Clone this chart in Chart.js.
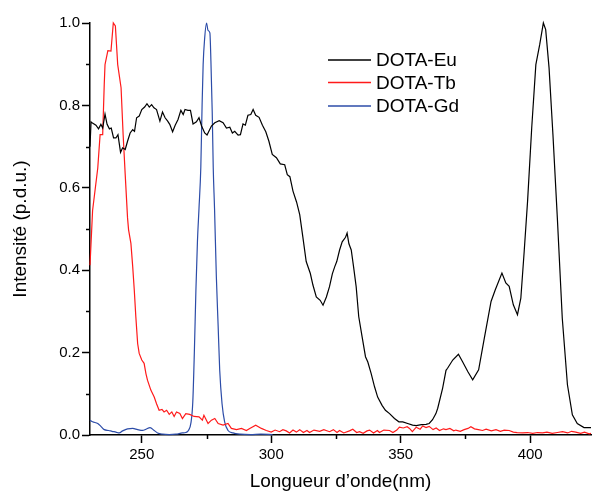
<!DOCTYPE html>
<html>
<head>
<meta charset="utf-8">
<script src="https://cdn.jsdelivr.net/npm/chart.js@4.4.1/dist/chart.umd.min.js"></script>
<style>
    body { margin: 0; background: #fff; }
    #wrap { width: 592px; height: 493px; }
</style>
</head>
<body>
<div id="wrap"><canvas id="myChart" width="592" height="493"></canvas></div>
<script>
// valeurs (longueur d'onde en nm, intensité normalisée)
var seriesLabels = ['DOTA-Eu', 'DOTA-Tb', 'DOTA-Gd'];
var seriesColors = ['#000000', '#ff1a1a', '#2c4ca8'];

var euX = [230.0, 230.4, 230.8, 232.3, 233.3, 234.2, 234.9, 235.8, 236.6, 237.5, 238.2, 239.1, 240.0, 240.8, 241.8, 242.6, 243.6, 244.5, 245.5, 246.5,
    247.2, 248.0, 249.0, 250.0, 251.1, 252.0, 252.9, 253.8, 254.7, 255.7, 257.0, 258.0, 259.0, 260.0, 260.8, 261.9, 262.9, 264.0, 265.1, 266.0,
    266.7, 267.8, 268.8, 269.8, 271.1, 272.1, 273.1, 274.3, 275.2, 276.9, 278.2, 279.9, 281.4, 282.7, 284.0, 285.0, 285.9, 287.2, 288.1, 289.1,
    290.0, 291.0, 292.1, 293.0, 294.0, 295.3, 296.6, 297.9, 299.1, 300.4, 302.0, 303.5, 305.2, 306.2, 307.2, 308.4, 309.8, 311.0, 312.2, 313.5,
    315.1, 316.1, 317.4, 318.9, 320.0, 321.3, 322.5, 323.6, 324.5, 325.3, 326.4, 327.4, 328.7, 329.3, 330.0, 330.9, 331.8, 332.8, 333.8, 335.1,
    336.4, 337.3, 338.6, 339.9, 341.1, 342.8, 344.1, 345.7, 347.6, 349.3, 350.8, 352.7, 354.6, 356.0, 358.0, 359.8, 361.0, 362.3, 363.6, 364.3,
    366.2, 367.5, 368.1, 370.1, 372.3, 373.9, 375.9, 377.8, 380.1, 382.3, 384.9, 386.5, 389.1, 390.6, 391.9, 393.5, 395.1, 396.4, 397.7, 399.0,
    400.6, 402.2, 403.7, 405.1, 406.0, 407.3, 408.8, 410.5, 412.4, 414.4, 416.3, 418.2, 420.8, 423.5];
var euY = [0.700, 0.760, 0.758, 0.752, 0.743, 0.754, 0.745, 0.779, 0.754, 0.743, 0.745, 0.721, 0.721, 0.729, 0.686, 0.697, 0.693, 0.713, 0.733, 0.741,
    0.737, 0.770, 0.774, 0.790, 0.796, 0.804, 0.796, 0.802, 0.794, 0.790, 0.762, 0.784, 0.770, 0.762, 0.754, 0.736, 0.752, 0.766, 0.788, 0.778,
    0.790, 0.788, 0.788, 0.755, 0.760, 0.770, 0.750, 0.733, 0.728, 0.750, 0.758, 0.763, 0.758, 0.745, 0.747, 0.733, 0.737, 0.728, 0.729, 0.755,
    0.752, 0.776, 0.778, 0.790, 0.776, 0.771, 0.752, 0.736, 0.713, 0.681, 0.673, 0.658, 0.656, 0.632, 0.627, 0.592, 0.565, 0.535, 0.481, 0.421,
    0.392, 0.364, 0.335, 0.327, 0.315, 0.335, 0.360, 0.391, 0.408, 0.421, 0.449, 0.469, 0.480, 0.490, 0.464, 0.449, 0.408, 0.360, 0.287, 0.238,
    0.190, 0.177, 0.149, 0.117, 0.092, 0.072, 0.060, 0.052, 0.040, 0.032, 0.032, 0.028, 0.024, 0.023, 0.025, 0.026, 0.028, 0.037, 0.052, 0.065,
    0.114, 0.157, 0.162, 0.182, 0.196, 0.178, 0.154, 0.134, 0.158, 0.235, 0.324, 0.352, 0.393, 0.369, 0.361, 0.316, 0.292, 0.332, 0.446, 0.567,
    0.745, 0.899, 0.948, 1.000, 0.984, 0.891, 0.729, 0.527, 0.284, 0.122, 0.049, 0.028, 0.018, 0.018];

var tbX = [230.0, 231.0, 233.0, 233.9, 234.9, 235.5, 235.8, 236.9, 238.1, 239.0, 239.8, 240.7, 242.0, 242.8, 243.6, 244.5, 244.9, 245.8, 246.5, 247.1,
    247.7, 248.4, 249.0, 250.0, 250.9, 251.6, 252.2, 253.5, 254.8, 255.7, 256.7, 257.8, 258.6, 259.6, 260.6, 261.6, 262.5, 263.4, 264.7, 265.7,
    267.0, 268.5, 270.2, 272.1, 273.4, 274.0, 275.6, 276.9, 278.2, 279.5, 281.4, 283.3, 284.6, 286.6, 288.5, 290.4, 291.7, 294.0, 296.2, 298.1,
    300.0, 301.5, 303.2, 304.5, 305.8, 307.1, 308.4, 309.7, 311.0, 312.4, 313.8, 314.8, 316.5, 318.7, 320.3, 322.5, 324.0, 325.4, 326.4, 328.0,
    330.2, 331.5, 333.0, 334.1, 335.5, 337.0, 338.0, 339.5, 341.0, 341.8, 343.5, 345.7, 347.0, 348.5, 349.5, 351.0, 352.5, 353.4, 354.5, 356.0,
    357.5, 358.5, 359.8, 361.0, 362.5, 363.7, 365.0, 366.5, 367.5, 369.0, 370.5, 371.3, 373.0, 374.5, 376.0, 377.1, 378.5, 380.0, 381.6, 383.0,
    385.0, 386.8, 388.5, 390.0, 391.9, 393.5, 395.0, 397.0, 399.0, 401.0, 402.8, 404.8, 406.5, 408.5, 410.5, 412.5, 414.5, 416.0, 417.6, 419.5,
    421.0, 422.8, 423.5];
var tbY = [0.412, 0.545, 0.648, 0.729, 0.729, 0.851, 0.899, 0.933, 0.932, 1.000, 0.993, 0.899, 0.843, 0.729, 0.632, 0.527, 0.498, 0.465, 0.408, 0.352,
    0.287, 0.222, 0.198, 0.182, 0.174, 0.149, 0.133, 0.109, 0.092, 0.076, 0.060, 0.062, 0.056, 0.060, 0.050, 0.056, 0.045, 0.056, 0.052, 0.040,
    0.052, 0.050, 0.045, 0.044, 0.036, 0.048, 0.028, 0.036, 0.040, 0.028, 0.024, 0.028, 0.016, 0.013, 0.016, 0.011, 0.016, 0.024, 0.016, 0.011,
    0.007, 0.012, 0.008, 0.013, 0.010, 0.005, 0.012, 0.007, 0.013, 0.006, 0.011, 0.006, 0.012, 0.009, 0.013, 0.008, 0.013, 0.006, 0.011, 0.005,
    0.010, 0.014, 0.006, 0.008, 0.004, 0.010, 0.012, 0.005, 0.011, 0.006, 0.012, 0.011, 0.006, 0.012, 0.019, 0.017, 0.020, 0.016, 0.008, 0.019,
    0.014, 0.022, 0.018, 0.021, 0.013, 0.017, 0.011, 0.015, 0.013, 0.016, 0.010, 0.012, 0.009, 0.013, 0.016, 0.020, 0.015, 0.013, 0.011, 0.014,
    0.010, 0.013, 0.009, 0.012, 0.011, 0.007, 0.006, 0.005, 0.006, 0.004, 0.006, 0.005, 0.007, 0.004, 0.006, 0.008, 0.005, 0.009, 0.007, 0.004,
    0.007, 0.003, 0.004];

var gdX = [230.0, 231.0, 233.0, 234.2, 235.5, 237.2, 238.5, 240.0, 241.3, 242.6, 244.5, 246.5, 248.4, 250.3, 251.6, 253.2, 254.8, 256.1, 258.0, 260.6,
    263.2, 265.7, 267.0, 268.0, 269.0, 269.7, 270.3, 270.9, 271.5, 272.1, 272.8, 273.3, 273.7, 274.3, 275.0, 275.6, 276.3, 276.7, 277.2, 277.6,
    278.1, 278.8, 279.5, 280.1, 281.0, 282.0, 283.3, 285.2, 288.0, 292.0, 296.0, 300.5];
var gdY = [0.036, 0.032, 0.028, 0.021, 0.013, 0.011, 0.009, 0.007, 0.005, 0.010, 0.015, 0.016, 0.013, 0.011, 0.014, 0.018, 0.011, 0.005, 0.002, 0.001,
    0.002, 0.005, 0.006, 0.011, 0.030, 0.080, 0.200, 0.350, 0.470, 0.550, 0.650, 0.802, 0.899, 0.964, 1.000, 0.982, 0.976, 0.908, 0.786, 0.648,
    0.550, 0.384, 0.263, 0.157, 0.076, 0.032, 0.011, 0.005, 0.002, 0.001, 0.002, 0.001];

var xTicks = [250, 275, 300, 325, 350, 375, 400];
var yTicks = [0, 0.1, 0.2, 0.3, 0.4, 0.5, 0.6, 0.7, 0.8, 0.9, 1.0];

var police = "'Liberation Sans', Arial, sans-serif";

function toPoints (xs, ys) {
    var pts = [];
    for (var i = 0; i < xs.length; i++) {
        pts.push({ x: xs[i], y: ys[i] });
    }
    return pts;
}

function isMajorX (v) {
    return v % 50 === 0;
}

function isMajorY (v) {
    return Math.round(v * 10) % 2 === 0;
}

// petites graduations + légende dans le graphique
var extras = {
    id: 'extras',
    afterDraw: function(chart) {
        var ctx = chart.ctx;
        var xs = chart.scales.x;
        var ys = chart.scales.y;
        var area = chart.chartArea;

        ctx.save();
        ctx.strokeStyle = '#000';
        ctx.lineWidth = 1.5;
        xTicks.forEach(function(v) {
            if (isMajorX(v)) return;
            var px = Math.round(xs.getPixelForValue(v)) + 0.5;
            ctx.beginPath();
            ctx.moveTo(px, area.bottom);
            ctx.lineTo(px, area.bottom + 4);
            ctx.stroke();
        });
        yTicks.forEach(function(v) {
            if (isMajorY(v)) return;
            var py = Math.round(ys.getPixelForValue(v)) + 0.5;
            ctx.beginPath();
            ctx.moveTo(area.left, py);
            ctx.lineTo(area.left - 4, py);
            ctx.stroke();
        });

        var rows = [60, 82.5, 106];
        ctx.font = '19px ' + police;
        ctx.textBaseline = 'middle';
        ctx.textAlign = 'left';
        chart.data.datasets.forEach(function(ds, i) {
            ctx.strokeStyle = ds.borderColor;
            ctx.lineWidth = 1.3;
            ctx.beginPath();
            ctx.moveTo(328, rows[i]);
            ctx.lineTo(371, rows[i]);
            ctx.stroke();
            ctx.fillStyle = '#000';
            ctx.fillText(ds.label, 376, rows[i] + 1);
        });
        ctx.restore();
    }
};

var ctx = document.getElementById('myChart');

new Chart(ctx, {
    type: 'line',
    data: {
        datasets: [
            { label: seriesLabels[0], data: toPoints(euX, euY), borderColor: seriesColors[0], borderWidth: 1.2, pointRadius: 0, tension: 0, clip: 4 },
            { label: seriesLabels[1], data: toPoints(tbX, tbY), borderColor: seriesColors[1], borderWidth: 1.2, pointRadius: 0, tension: 0, clip: 4 },
            { label: seriesLabels[2], data: toPoints(gdX, gdY), borderColor: seriesColors[2], borderWidth: 1.2, pointRadius: 0, cubicInterpolationMode: 'monotone', clip: 4 }
        ]
    },
    options: {
        responsive: false,
        animation: false,
        layout: { padding: { top: 23, right: 1, left: 0, bottom: 0 } },
        plugins: {
            legend: { display: false },
            tooltip: { enabled: false }
        },
        scales: {
            x: {
                type: 'linear',
                min: 230,
                max: 423.5,
                afterBuildTicks: function(scale) {
                    scale.ticks = xTicks.map(function(v) { return { value: v }; });
                },
                afterFit: function(scale) {
                    scale.height = 58;
                },
                border: { display: true, color: '#000', width: 1.5 },
                grid: {
                    drawOnChartArea: false,
                    drawTicks: true,
                    tickLength: 8,
                    tickWidth: 1.5,
                    tickColor: function(c) {
                        return c.tick && isMajorX(c.tick.value) ? '#000' : 'rgba(0,0,0,0)';
                    }
                },
                ticks: {
                    autoSkip: false,
                    maxRotation: 0,
                    padding: 3,
                    color: '#000',
                    font: { family: police, size: 15 },
                    callback: function(v) {
                        return isMajorX(v) ? String(v) : '';
                    }
                },
                title: {
                    display: true,
                    text: 'Longueur d\u2019onde(nm)',
                    color: '#000',
                    font: { family: police, size: 19, lineHeight: 1.2 },
                    padding: { top: 0, bottom: 0 }
                }
            },
            y: {
                type: 'linear',
                min: 0,
                max: 1,
                afterBuildTicks: function(scale) {
                    scale.ticks = yTicks.map(function(v) { return { value: v }; });
                },
                afterFit: function(scale) {
                    scale.width = 90;
                },
                border: { display: true, color: '#000', width: 1.5 },
                grid: {
                    drawOnChartArea: false,
                    drawTicks: true,
                    tickLength: 8,
                    tickWidth: 1.5,
                    tickColor: function(c) {
                        return c.tick && isMajorY(c.tick.value) ? '#000' : 'rgba(0,0,0,0)';
                    }
                },
                ticks: {
                    autoSkip: false,
                    padding: 2,
                    color: '#000',
                    font: { family: police, size: 15 },
                    callback: function(v) {
                        return isMajorY(v) ? v.toFixed(1) : '';
                    }
                },
                title: {
                    display: true,
                    text: 'Intensité (p.d.u.)',
                    color: '#000',
                    font: { family: police, size: 19, lineHeight: 1.2 },
                    padding: { top: 9, bottom: 0 }
                }
            }
        }
    },
    plugins: [extras]
});
</script>
</body>
</html>
